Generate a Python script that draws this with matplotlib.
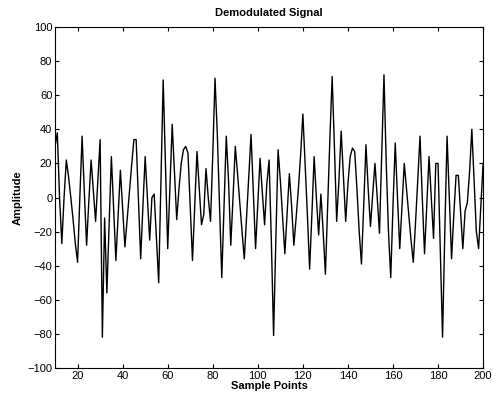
import numpy as np
import matplotlib
matplotlib.use('Agg')
import matplotlib.pyplot as plt

# Demodulated signal, sample points 10..200
samples = np.arange(10, 201)
amplitude = [
    30, 38, 0, -27, 0, 22, 12, 0, -13, -27,             # 10-19
    -38, 0, 36, 3, -28, -2, 22, 4, -14, 10,             # 20-29
    34, -82, -12, -56, -15, 24, -6, -37, -10, 16,       # 30-39
    -6, -29, -13, 3, 19, 34, 34, -1, -36, -5,           # 40-49
    24, 0, -25, 0, 2, -24, -50, 10, 69, 20,             # 50-59
    -30, 6, 43, 15, -13, 5, 20, 28, 30, 26,             # 60-69
    -5, -37, -5, 27, 5, -16, -10, 17, 0, -14,           # 70-79
    25, 70, 38, -5, -47, -5, 36, 10, -28, 0,            # 80-89
    30, 14, -3, -20, -36, -12, 12, 37, 3, -30,          # 90-99
    -3, 23, 3, -16, 8, 22, -25, -81, -25, 28,           # 100-109
    10, -12, -33, -10, 14, -5, -28, -12, 5, 25,         # 110-119
    49, 20, -10, -42, -10, 24, 0, -22, 2, -20,          # 120-129
    -45, -5, 35, 71, 30, -14, 10, 39, 12, -14,          # 130-139
    8, 24, 29, 27, 5, -20, -39, -5, 31, 5,              # 140-149
    -17, 2, 20, 0, -21, 25, 72, 20, -20, -47,           # 150-159
    -5, 32, 0, -30, -5, 20, 5, -10, -25, -38,           # 160-169
    -15, 10, 36, 0, -33, -5, 24, 0, -24, 20,            # 170-179
    20, -30, -82, -20, 36, 0, -36, -10, 13, 13,         # 180-189
    -8, -30, -8, -3, 15, 40, 10, -20, -30, -5,          # 190-199
    20,                                                 # 200
]

plt.rcParams['font.family'] = ['Liberation Sans', 'DejaVu Sans']

fig = plt.figure(figsize=(4.96, 3.99), dpi=100)
ax = fig.add_axes([0.111, 0.078, 0.863, 0.854])
ax.plot(samples, amplitude, color='black', linewidth=1.0)

ax.set_xlim(10, 200)
ax.set_ylim(-100, 100)
ax.set_xticks(np.arange(20, 201, 20))
ax.set_yticks(np.arange(-100, 101, 20))
ax.tick_params(direction='in', top=True, right=True, labelsize=8, length=3, pad=2)

ax.set_title('Demodulated Signal', fontsize=8, fontweight='bold', pad=8)
ax.set_xlabel('Sample Points', fontsize=8, fontweight='bold', labelpad=0)
ax.set_ylabel('Amplitude', fontsize=8, fontweight='bold', labelpad=3)

fig.savefig('out.png', dpi=100)
